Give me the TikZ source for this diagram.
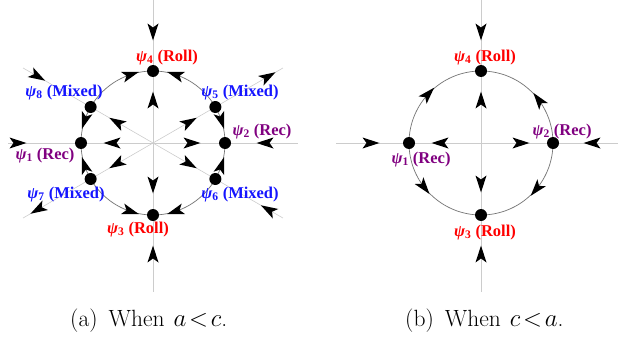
\documentclass[tikz,border=0pt]{standalone}
\usepackage{fontspec}
\newfontfamily\labfont{Liberation Serif}
\definecolor{rollred}{RGB}{255,0,0}
\definecolor{mixblue}{RGB}{20,20,255}
\definecolor{recpurple}{RGB}{128,0,128}
\newcommand\plab[2]{{\labfont\fontsize{16.5}{19}\selectfont\bfseries{\itshape ψ}\textsubscript{#1} (#2)}}
\begin{document}
\begin{tikzpicture}[x=1pt,y=1pt,
  axisline/.style={draw=black!20,line width=0.6pt},
  circline/.style={draw=black!55,line width=0.7pt},
  eqdot/.style={circle,fill=black,inner sep=0pt,minimum size=12pt},
  lab/.style={anchor=base,inner sep=0pt},
  ah/.pic={\fill[black] (8.5,0) -- (-8.5,5.5) -- (-4.5,0) -- (-8.5,-5.5) -- cycle;},
  captext/.style={anchor=base west,inner sep=0pt,font=\fontsize{23.5}{27}\selectfont}]
\useasboundingbox (0,0) rectangle (618,341);
% ---------- left panel ----------
\begin{scope}[shift={(153,198)}]
  \draw[axisline] (0,143) -- (0,-149);
  \draw[axisline] (-145,0) -- (145,0);
  \draw[axisline] (150:150) -- (330:150);
  \draw[axisline] (30:150) -- (210:150);
  \draw[circline] (0,0) circle (72);
  % outer arrows
  \path (90:111) pic[rotate=270]{ah};
  \path (270:111) pic[rotate=90]{ah};
  \path (180:135) pic[rotate=0]{ah};
  \path (0:112) pic[rotate=180]{ah};
  \path (150:133) pic[rotate=330]{ah};
  \path (30:133) pic[rotate=30]{ah};
  \path (210:133) pic[rotate=210]{ah};
  \path (330:133) pic[rotate=150]{ah};
  % inner arrows
  \path (90:43) pic[rotate=90]{ah};
  \path (270:42) pic[rotate=270]{ah};
  \path (180:41) pic[rotate=180]{ah};
  \path (0:39) pic[rotate=0]{ah};
  \path (150:42) pic[rotate=150]{ah};
  \path (30:42) pic[rotate=30]{ah};
  \path (210:42) pic[rotate=210]{ah};
  \path (330:42) pic[rotate=330]{ah};
  % circle arrows
  \path (108:72) pic[rotate=18]{ah};
  \path (72:72) pic[rotate=162]{ah};
  \path (162:72) pic[rotate=252]{ah};
  \path (18:72) pic[rotate=-72]{ah};
  \path (198:72) pic[rotate=108]{ah};
  \path (342:72) pic[rotate=72]{ah};
  \path (252:72) pic[rotate=342]{ah};
  \path (288:72) pic[rotate=198]{ah};
  % equilibria
  \node[eqdot] (a4) at (90:72) {};
  \node[eqdot] (a3) at (270:72) {};
  \node[eqdot] (a1) at (180:72) {};
  \node[eqdot] (a2) at (0:72) {};
  \node[eqdot] (a5) at (30:72) {};
  \node[eqdot] (a8) at (150:72) {};
  \node[eqdot] (a7) at (210:72) {};
  \node[eqdot] (a6) at (330:72) {};
\end{scope}
\node[lab,text=rollred] (la4) at (167,280) {\plab{4}{Roll}};
\node[lab,text=mixblue] (la5) at (240,245) {\plab{5}{Mixed}};
\node[lab,text=mixblue] (la8) at (64,245) {\plab{8}{Mixed}};
\node[lab,text=recpurple] (la2) at (262,206) {\plab{2}{Rec}};
\node[lab,text=recpurple] (la1) at (45,182) {\plab{1}{Rec}};
\node[lab,text=mixblue] (la7) at (66,143) {\plab{7}{Mixed}};
\node[lab,text=mixblue] (la6) at (240,143) {\plab{6}{Mixed}};
\node[lab,text=rollred] (la3) at (138,108) {\plab{3}{Roll}};
% ---------- right panel ----------
\begin{scope}[shift={(481,198)}]
  \draw[axisline] (0,143) -- (0,-149);
  \draw[axisline] (-145,0) -- (137,0);
  \draw[circline] (0,0) circle (72);
  \path (90:111) pic[rotate=270]{ah};
  \path (270:111) pic[rotate=90]{ah};
  \path (180:110) pic[rotate=0]{ah};
  \path (0:111) pic[rotate=180]{ah};
  \path (90:43) pic[rotate=90]{ah};
  \path (270:41) pic[rotate=270]{ah};
  \path (180:41) pic[rotate=180]{ah};
  \path (0:40) pic[rotate=0]{ah};
  \path (137:72) pic[rotate=47]{ah};
  \path (37:72) pic[rotate=127]{ah};
  \path (218:72) pic[rotate=308]{ah};
  \path (320:72) pic[rotate=230]{ah};
  \node[eqdot] (b4) at (90:72) {};
  \node[eqdot] (b3) at (270:72) {};
  \node[eqdot] (b1) at (180:72) {};
  \node[eqdot] (b2) at (0:72) {};
\end{scope}
\node[lab,text=rollred] (lb4) at (485,280) {\plab{4}{Roll}};
\node[lab,text=recpurple] (lb2) at (562,206) {\plab{2}{Rec}};
\node[lab,text=recpurple] (lb1) at (421,178) {\plab{1}{Rec}};
\node[lab,text=rollred] (lb3) at (485,105) {\plab{3}{Roll}};
% ---------- captions ----------
\node[captext] (capa) at (70,15) {(a)\hspace{11pt}When\hspace{9pt}$a\!<\!c$.};
\node[captext] (capb) at (405,15) {(b)\hspace{11pt}When\hspace{9pt}$c\!<\!a$.};
\end{tikzpicture}
\end{document}
